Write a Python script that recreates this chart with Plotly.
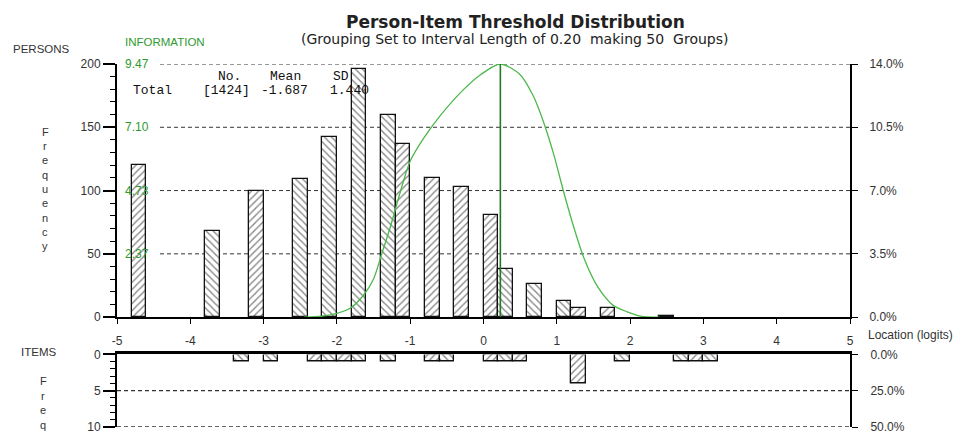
import plotly.graph_objects as go

# ---------------- data ----------------
person_bin_centres = [-4.7, -3.7, -3.1, -2.5, -2.1, -1.7, -1.3, -1.1, -0.7, -0.3,
                      0.1, 0.3, 0.7, 1.1, 1.3, 1.7, 2.5]
person_counts = [120, 68, 100, 109, 142, 196, 160, 137, 110, 103,
                 81, 38, 26, 13, 7, 7, 1]
persons_total = 1424

item_bin_centres = [-3.3, -2.9, -2.3, -2.1, -1.9, -1.7, -1.3, -0.7, -0.5,
                    0.1, 0.3, 0.5, 1.3, 1.9, 2.7, 2.9, 3.1]
item_counts = [1, 1, 1, 1, 1, 1, 1, 1, 1, 1, 1, 1, 4, 1, 1, 1, 1]
items_total = 20

info_x = [-2.45, -2.2, -2.0, -1.82, -1.64, -1.5, -1.39, -1.27, -1.13, -1.0, -0.82,
          -0.59, -0.27, -0.04, 0.23, 0.5, 0.68, 0.82, 0.96, 1.09, 1.23, 1.37,
          1.55, 1.77, 1.96, 2.14, 2.4]
info_y = [0.0, 0.04, 0.14, 0.33, 0.81, 1.43, 2.35, 3.38, 4.73, 5.84, 6.68,
          7.54, 8.52, 9.07, 9.47, 9.07, 8.27, 7.29, 6.07, 4.72, 3.38, 2.21,
          1.17, 0.44, 0.20, 0.04, 0.0]
info_max = 9.47
info_peak_x = 0.23
info_tick_labels = ["2.37", "4.73", "7.10", "9.47"]

x_ticks = [-5, -4, -3, -2, -1, 0, 1, 2, 3, 4, 5]
x_tick_labels = ["-5", "-4", "-3", "-2", "-1", "0", "1", "2", "3", "4", "5"]
persons_ticks = [0, 50, 100, 150, 200]
items_ticks = [0, 5, 10]

stats_header = ["No.", "Mean", "SD"]
stats_row = ["Total", "[1424]", "-1.687", "1.440"]

bin_width = 0.2
x_min = -5

# ---------------- helpers ----------------
W, H = 962, 442
ML, MR, MT, MB = 117, 112, 64, 8
PW, PH = W - ML - MR, H - MT - MB
BOTTOM = H - MB                  # pixel row of paper y = 0


def px(p):
    return (p - ML) / PW


def py(p):
    return (BOTTOM - p) / PH


def hatch(centres):
    out = []
    for c in centres:
        idx = int(round((c - x_min) / bin_width - 0.5))
        out.append("/" if idx % 2 == 1 else "\\")
    return out


GREEN_TXT = "#2f9a2f"
TXT = "#333333"
FONT = "Liberation Sans, Arial, sans-serif"
WIDE = "DejaVu Sans, Verdana, sans-serif"

fig = go.Figure()


def bar_marker(centres):
    return dict(
        color="white",
        line=dict(color="#111111", width=1.3),
        pattern=dict(shape=hatch(centres), fgcolor="#111111", size=5,
                     solidity=0.28, fillmode="overlay"),
    )


fig.add_trace(go.Bar(x=person_bin_centres, y=person_counts, width=bin_width,
                     marker=bar_marker(person_bin_centres),
                     xaxis="x", yaxis="y", showlegend=False))

fig.add_trace(go.Bar(x=item_bin_centres, y=item_counts, width=bin_width,
                     marker=bar_marker(item_bin_centres),
                     xaxis="x2", yaxis="y2", showlegend=False))

fig.add_trace(go.Scatter(x=info_x, y=info_y, mode="lines",
                         line=dict(color="#4cb84c", width=1.3, shape="spline",
                                   smoothing=0.8),
                         xaxis="x", yaxis="y4", showlegend=False))
fig.add_trace(go.Scatter(x=[info_peak_x, info_peak_x], y=[0, info_max],
                         mode="lines", line=dict(color="#227a22", width=1.6),
                         xaxis="x", yaxis="y4", showlegend=False))

# invisible helper traces so overlay axes render
fig.add_trace(go.Scatter(x=[None], y=[None], xaxis="x", yaxis="y3",
                         showlegend=False))
fig.add_trace(go.Scatter(x=[None], y=[None], xaxis="x2", yaxis="y5",
                         showlegend=False))

# grid (dashed)
shapes = []
for v in persons_ticks[1:]:
    shapes.append(dict(type="line", xref="paper", yref="y", x0=px(160), x1=1,
                       y0=v, y1=v, line=dict(color="#333", width=1,
                                             dash="4px,3px"), layer="below"))
for v in items_ticks[1:]:
    shapes.append(dict(type="line", xref="paper", yref="y2", x0=0, x1=1,
                       y0=v, y1=v, line=dict(color="#333", width=1.3,
                                             dash="4px,3px"), layer="below"))

persons_pct = ["%.1f%%" % (v / persons_total * 100) for v in persons_ticks]
items_pct = ["%.1f%%" % (v / items_total * 100) for v in items_ticks]

axis_font = dict(family=FONT, size=12, color=TXT)

top_bottom_px, low_top_px, low_bottom_px = 322, 360, 434

fig.update_layout(
    width=W, height=H,
    margin=dict(l=ML, r=MR, t=MT, b=MB),
    paper_bgcolor="white", plot_bgcolor="white",
    bargap=0, showlegend=False,
    shapes=shapes,
    xaxis=dict(domain=[0, 1], anchor="y", range=[-5, 5],
               tickvals=x_ticks, ticktext=x_tick_labels,
               ticks="outside", ticklen=5, tickwidth=1.3, tickcolor="black",
               ticklabelstandoff=6,
               showline=True, linewidth=2, linecolor="black",
               showgrid=False, zeroline=False, tickfont=axis_font),
    yaxis=dict(domain=[py(top_bottom_px), 1], anchor="x", range=[0, 200],
               tickvals=persons_ticks, ticks="outside", ticklen=12,
               tickwidth=1.5, tickcolor="black",
               minor=dict(dtick=10, ticks="outside", ticklen=5,
                          tickwidth=1.3, tickcolor="black"),
               showline=True, linewidth=2, linecolor="black",
               showgrid=False, zeroline=False, tickfont=axis_font),
    yaxis3=dict(overlaying="y", side="right", anchor="x", range=[0, 200],
                tickvals=persons_ticks, ticktext=persons_pct,
                ticks="outside", ticklen=6, tickwidth=1.3, tickcolor="black",
                ticklabelstandoff=9,
                showline=True, linewidth=2, linecolor="black",
                showgrid=False, zeroline=False, tickfont=axis_font),
    yaxis4=dict(overlaying="y", range=[0, info_max], visible=False),
    xaxis2=dict(domain=[0, 1], anchor="y2", range=[-5, 5], side="top",
                showticklabels=False, ticks="",
                showline=True, linewidth=2.5, linecolor="black",
                showgrid=False, zeroline=False),
    yaxis2=dict(domain=[py(low_bottom_px), py(low_top_px)], anchor="x2",
                range=[10, 0],
                tickvals=items_ticks, ticks="outside", ticklen=12,
                tickwidth=1.5, tickcolor="black",
                minor=dict(dtick=1, ticks="outside", ticklen=5,
                           tickwidth=1.3, tickcolor="black"),
                ticklabeloverflow="allow",
                showline=True, linewidth=2, linecolor="black",
                showgrid=False, zeroline=False, tickfont=axis_font),
    yaxis5=dict(overlaying="y2", side="right", anchor="x2", range=[10, 0],
                tickvals=items_ticks, ticktext=items_pct,
                ticks="outside", ticklen=6, tickwidth=1.3, tickcolor="black",
                ticklabelstandoff=10, ticklabeloverflow="allow",
                showline=True, linewidth=2, linecolor="black",
                showgrid=False, zeroline=False, tickfont=axis_font),
)

ann = []


def text(t, x, y, size=12, color=TXT, anchor="left", family=FONT, bold=False):
    if bold:
        t = "<b>" + t + "</b>"
    ann.append(dict(text=t, x=px(x), y=py(y), xref="paper", yref="paper",
                    xanchor=anchor, yanchor="middle", showarrow=False,
                    font=dict(size=size, color=color, family=family)))


text("Person-Item Threshold Distribution", 515, 21, size=17, color="#222",
     anchor="center", family=WIDE, bold=True)
text("(Grouping Set to Interval Length of 0.20\u00a0 making 50\u00a0 Groups)",
     514, 39, size=14, color="#222", anchor="center", family=WIDE)
text("PERSONS", 11, 49, size=11.5)
text("INFORMATION", 123, 42, size=11.5, color=GREEN_TXT)
text("ITEMS", 19, 358, size=11.5)
text("Location (logits)", 866, 340, size=12)

# Frequency vertical letters
for i, ch in enumerate("Frequency"):
    text(ch, 45, 133 + i * 14.6, size=11, anchor="center")
for i, ch in enumerate("Freq"):
    text(ch, 43, 387 + i * 15.0, size=11, anchor="center")

# information scale labels (green)
for lab, frac in zip(info_tick_labels, [0.25, 0.5, 0.75, 1.0]):
    ann.append(dict(text=lab, x=px(123), y=frac * info_max, xref="paper",
                    yref="y4", xanchor="left", yanchor="middle",
                    showarrow=False,
                    font=dict(size=12, color=GREEN_TXT, family=FONT)))

MONO = "Liberation Mono, Courier New, monospace"
for t, x in zip(stats_header, [216, 268, 331]):
    text(t, x, 77, size=13, color="#111", family=MONO)
for t, x in zip(stats_row, [131, 201, 259, 328]):
    text(t, x, 91, size=13, color="#111", family=MONO)

fig.update_layout(annotations=ann)

post = (
    "var de=document.documentElement, b=document.body;"
    "de.style.margin='0'; de.style.padding='0';"
    "b.style.margin='0'; b.style.padding='0';"
)

fig.write_html("out.html", config={"displayModeBar": False},
               post_script=post)
